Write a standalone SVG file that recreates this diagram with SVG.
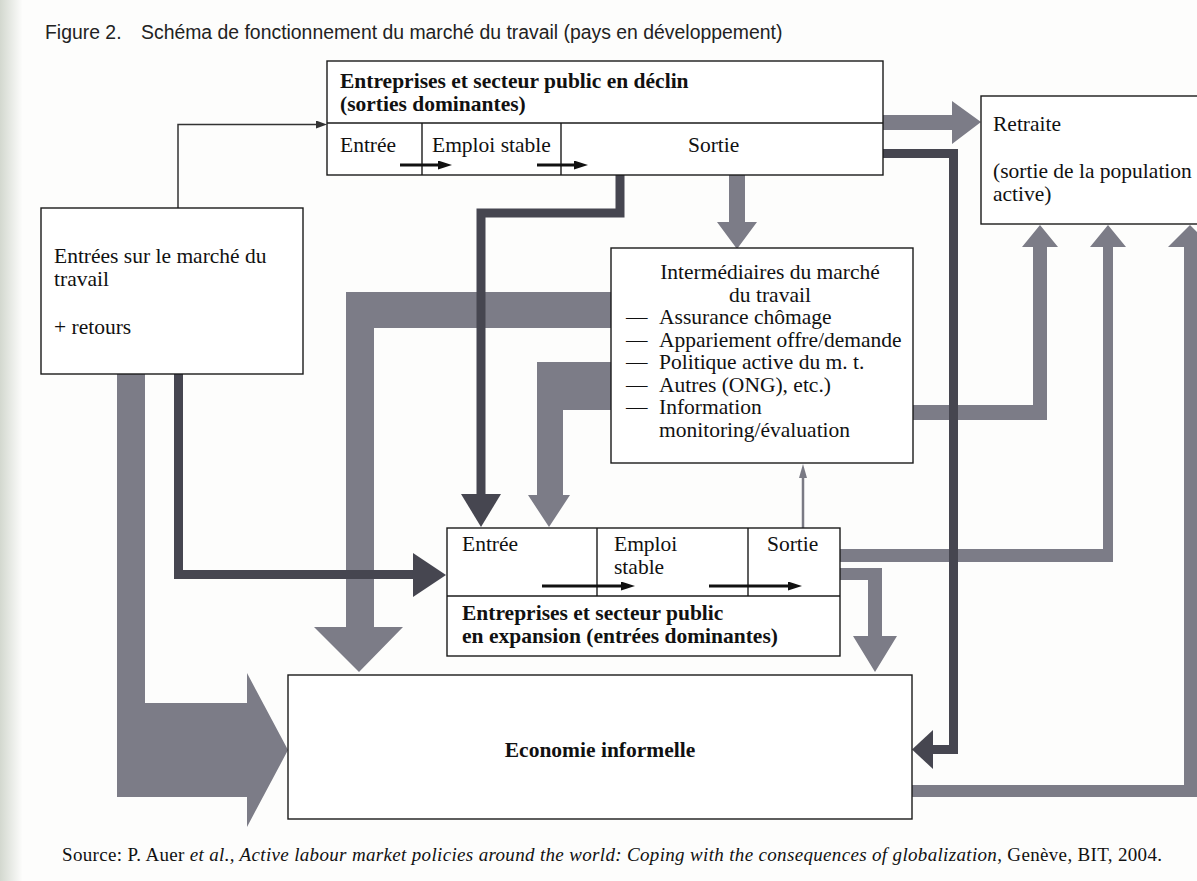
<svg xmlns="http://www.w3.org/2000/svg" width="1197" height="881" viewBox="0 0 1197 881">
<defs>
<linearGradient id="edge" x1="0" x2="1" y1="0" y2="0"><stop offset="0" stop-color="#d3d8cf"/><stop offset="1" stop-color="#fcfcfb"/></linearGradient>
<marker id="sa" viewBox="0 0 14 9" refX="5" refY="4.5" markerWidth="14" markerHeight="9" markerUnits="userSpaceOnUse" orient="auto"><path d="M0,0 L14,4.5 L0,9 z" fill="#111"/></marker>
<marker id="ta" viewBox="0 0 11 8" refX="3" refY="4" markerWidth="11" markerHeight="8" markerUnits="userSpaceOnUse" orient="auto"><path d="M0,0 L11,4 L0,8 z" fill="#333"/></marker>
<marker id="ga" viewBox="0 0 14 8" refX="4" refY="4" markerWidth="14" markerHeight="8" markerUnits="userSpaceOnUse" orient="auto"><path d="M0,0 L14,4 L0,8 z" fill="#7a7a84"/></marker>
<style>
.box{fill:#fff;stroke:#1a1a1a;stroke-width:1.4}
.ln{stroke:#1a1a1a;stroke-width:1.4}
.t{font-family:"Liberation Serif","Times New Roman",serif;font-size:21.5px;fill:#111}
.b{font-weight:bold}
.g{fill:#7c7c87}
.dk{fill:none;stroke:#464650;stroke-width:9}
.dh{fill:#464650}
.sm{stroke:#111;stroke-width:3;marker-end:url(#sa)}
.cap{font-family:"Liberation Sans",Arial,sans-serif;font-size:19.4px;fill:#222}
</style>
</defs>
<rect x="0" y="0" width="1197" height="881" fill="#fdfdfc"/>
<rect x="0" y="0" width="22" height="881" fill="url(#edge)"/>

<text class="cap" x="45" y="39">Figure 2.</text>
<text class="cap" x="141" y="39">Schéma de fonctionnement du marché du travail (pays en développement)</text>

<g id="connectors">
  <!-- big grey arrows -->
  <polygon class="g" points="117,373 117,797 247,797 247,827 288,750 247,673 247,703 145,703 145,373"/>
  <polygon class="g" points="611,292 346,292 346,627 314,627 359,672 403,627 374,627 374,328 611,328"/>
  <polygon class="g" points="611,362 537,362 537,495 528,495 549,527 570,495 563,495 563,410 611,410"/>
  <polygon class="g" points="883,115 952,115 952,101 981,122 952,144 952,130 883,130"/>
  <polygon class="g" points="729,175 745,175 745,222 757,222 737,249 717,222 729,222"/>
  <polygon class="g" points="913,405 1033,405 1033,247 1022,247 1040,225 1058,247 1047,247 1047,420 913,420"/>
  <polygon class="g" points="840,549 1103,549 1103,247 1090,247 1108,225 1126,247 1113,247 1113,562 840,562"/>
  <polygon class="g" points="912,785 1184,785 1184,247 1168,247 1190,225 1212,247 1197,247 1197,797 912,797"/>
  <polygon class="g" points="840,568 882,568 882,636 897,636 875,672 853,636 868,636 868,580 840,580"/>
  <!-- dark arrows -->
  <path class="dk" d="M178.5,373 V574.5 H414"/>
  <polygon class="dh" points="413,553 446,575 413,597"/>
  <path class="dk" d="M620,175 V213 H481 V496"/>
  <polygon class="dh" points="461,494 501,494 481,527"/>
  <path class="dk" d="M883,153.5 H953.5 V749.5 H930"/>
  <polygon class="dh" points="933,730 912,749.5 933,769"/>
  <!-- thin arrows -->
  <path d="M178,208 V124.5 H319" fill="none" stroke="#333" stroke-width="1.5" marker-end="url(#ta)"/>
  <line x1="803" y1="528" x2="803" y2="474" stroke="#7a7a84" stroke-width="2.5" marker-end="url(#ga)"/>
</g>

<g id="node-declin">
  <rect class="box" x="327" y="61" width="556" height="114"/>
  <line class="ln" x1="327" y1="123" x2="883" y2="123"/>
  <line class="ln" x1="422" y1="123" x2="422" y2="175"/>
  <line class="ln" x1="561" y1="123" x2="561" y2="175"/>
  <text class="t b" x="340" y="88">Entreprises et secteur public en déclin</text>
  <text class="t b" x="340" y="111">(sorties dominantes)</text>
  <text class="t" x="340" y="152">Entrée</text>
  <text class="t" x="432" y="152">Emploi stable</text>
  <text class="t" x="688" y="152">Sortie</text>
  <line class="sm" x1="400" y1="165" x2="443" y2="165"/>
  <line class="sm" x1="537" y1="165" x2="579" y2="165"/>
</g>

<g id="node-retraite">
  <rect class="box" x="981" y="96" width="240" height="128"/>
  <text class="t" x="993" y="131">Retraite</text>
  <text class="t" x="993" y="178">(sortie de la population</text>
  <text class="t" x="993" y="201">active)</text>
</g>

<g id="node-entrees">
  <rect class="box" x="41" y="208" width="262" height="166"/>
  <text class="t" x="54" y="263">Entrées sur le marché du</text>
  <text class="t" x="54" y="286">travail</text>
  <text class="t" x="54" y="334">+ retours</text>
</g>

<g id="node-intermediaires">
  <rect class="box" x="611" y="248" width="302" height="215"/>
  <text class="t" x="770" y="279" text-anchor="middle">Intermédiaires du marché</text>
  <text class="t" x="770" y="301.5" text-anchor="middle">du travail</text>
  <text class="t" y="324"><tspan x="626">—</tspan><tspan x="659">Assurance chômage</tspan></text>
  <text class="t" y="346.5"><tspan x="626">—</tspan><tspan x="659">Appariement offre/demande</tspan></text>
  <text class="t" y="369"><tspan x="626">—</tspan><tspan x="659">Politique active du m. t.</tspan></text>
  <text class="t" y="391.5"><tspan x="626">—</tspan><tspan x="659">Autres (ONG), etc.)</tspan></text>
  <text class="t" y="414"><tspan x="626">—</tspan><tspan x="659">Information</tspan></text>
  <text class="t" x="659" y="436.5">monitoring/évaluation</text>
</g>

<g id="node-expansion">
  <rect class="box" x="447" y="528" width="393" height="128"/>
  <line class="ln" x1="447" y1="596" x2="840" y2="596"/>
  <line class="ln" x1="597" y1="528" x2="597" y2="596"/>
  <line class="ln" x1="748" y1="528" x2="748" y2="596"/>
  <text class="t" x="462" y="551">Entrée</text>
  <text class="t" x="614" y="551">Emploi</text>
  <text class="t" x="614" y="574">stable</text>
  <text class="t" x="767" y="551">Sortie</text>
  <line class="sm" x1="542" y1="586" x2="626" y2="586"/>
  <line class="sm" x1="709" y1="586" x2="793" y2="586"/>
  <text class="t b" x="462" y="620">Entreprises et secteur public</text>
  <text class="t b" x="462" y="643">en expansion (entrées dominantes)</text>
</g>

<g id="node-informelle">
  <rect class="box" x="288" y="675" width="624" height="144"/>
  <text class="t b" x="600" y="757" text-anchor="middle">Economie informelle</text>
</g>

<text x="62" y="861" font-family="Liberation Serif, Times New Roman, serif" font-size="19" fill="#111" textLength="1100" lengthAdjust="spacing">Source: P. Auer <tspan font-style="italic">et al., Active labour market policies around the world: Coping with the consequences of globalization</tspan>, Genève, BIT, 2004.</text>
</svg>
